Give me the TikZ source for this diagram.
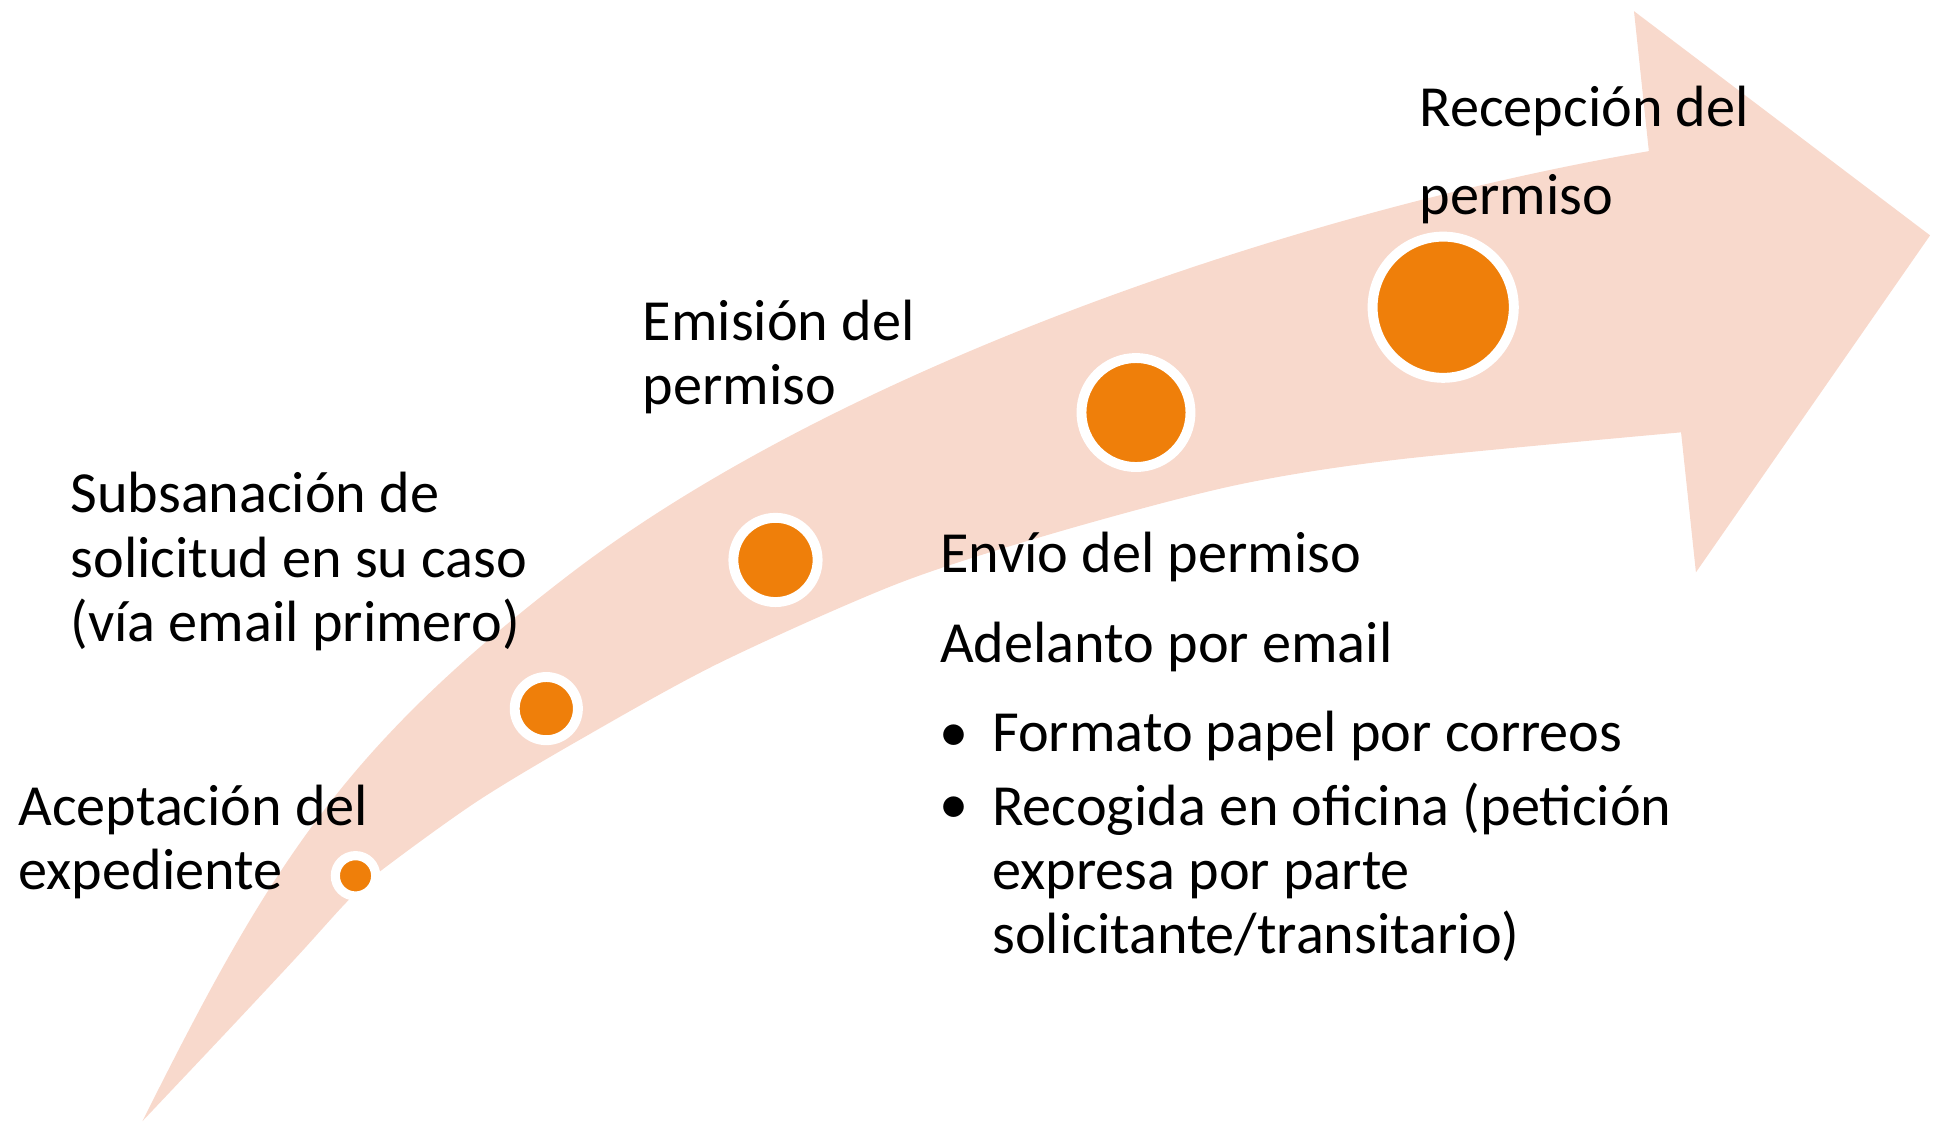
\documentclass[tikz,border=0pt]{standalone}
\usepackage{fontspec}
\setmainfont{Carlito}
\definecolor{arrowfill}{RGB}{248,217,204}
\definecolor{dotorange}{RGB}{239,127,10}
\begin{document}
\begin{tikzpicture}[x=1pt,y=-1pt,
  lbl/.style={anchor=base west, inner sep=0pt, outer sep=0pt, align=left, font=\fontsize{47}{52}\selectfont},
  dot/.style={circle, fill=dotorange, draw=white, line width=8pt, inner sep=0pt, outer sep=0pt}]
\useasboundingbox (0,0) rectangle (1562,907);
% curved arrow
\fill[arrowfill]
  (115,905) .. controls (218,699) and (276,605) .. (458,465)
            .. controls (679.9,294.2) and (1055,168.9) .. (1331,122)
  -- (1319,9) -- (1558,190) -- (1369,462) -- (1357,349)
  -- plot[smooth, tension=0.5] coordinates {(1357,349) (1128,371) (996,392) (852,430) (725,471) (581,535) (470,596) (385,647) (306,704) (280,728) (240,772) (183,833) (115,905)}
  -- cycle;
% milestones
\node[dot, minimum size=32.6pt, line width=7.4pt] (d1) at (287,707) {};
\node[dot, minimum size=51pt] (d2) at (441,572) {};
\node[dot, minimum size=68pt] (d3) at (626,452) {};
\node[dot, minimum size=88pt] (d4) at (917,333) {};
\node[dot, minimum size=114pt] (d5) at (1165,248) {};
% labels
\node[lbl] (acept) at (15,718) {Aceptación del\\expediente};
\node[lbl] (subs) at (57,518) {Subsanación de\\solicitud en su caso\\(vía email primero)};
\node[lbl] (emis) at (519,326.5) {Emisión del\\permiso};
\node[lbl] (recep) at (1146,173) {Recepción del\\[19pt]permiso};
\node[lbl] (envio) at (759,462) {Envío del permiso};
\node[lbl] (adel) at (759,535) {Adelanto por email};
\node[lbl] (it1) at (801,607) {Formato papel por correos};
\node[lbl] (it2) at (801,770) {Recogida en oficina (petición\\expresa por parte\\solicitante/transitario)};
\node[lbl, anchor=base] (b1) at (770,607) {\textbullet};
\node[lbl, anchor=base] (b2) at (770,665) {\textbullet};
\end{tikzpicture}
\end{document}
